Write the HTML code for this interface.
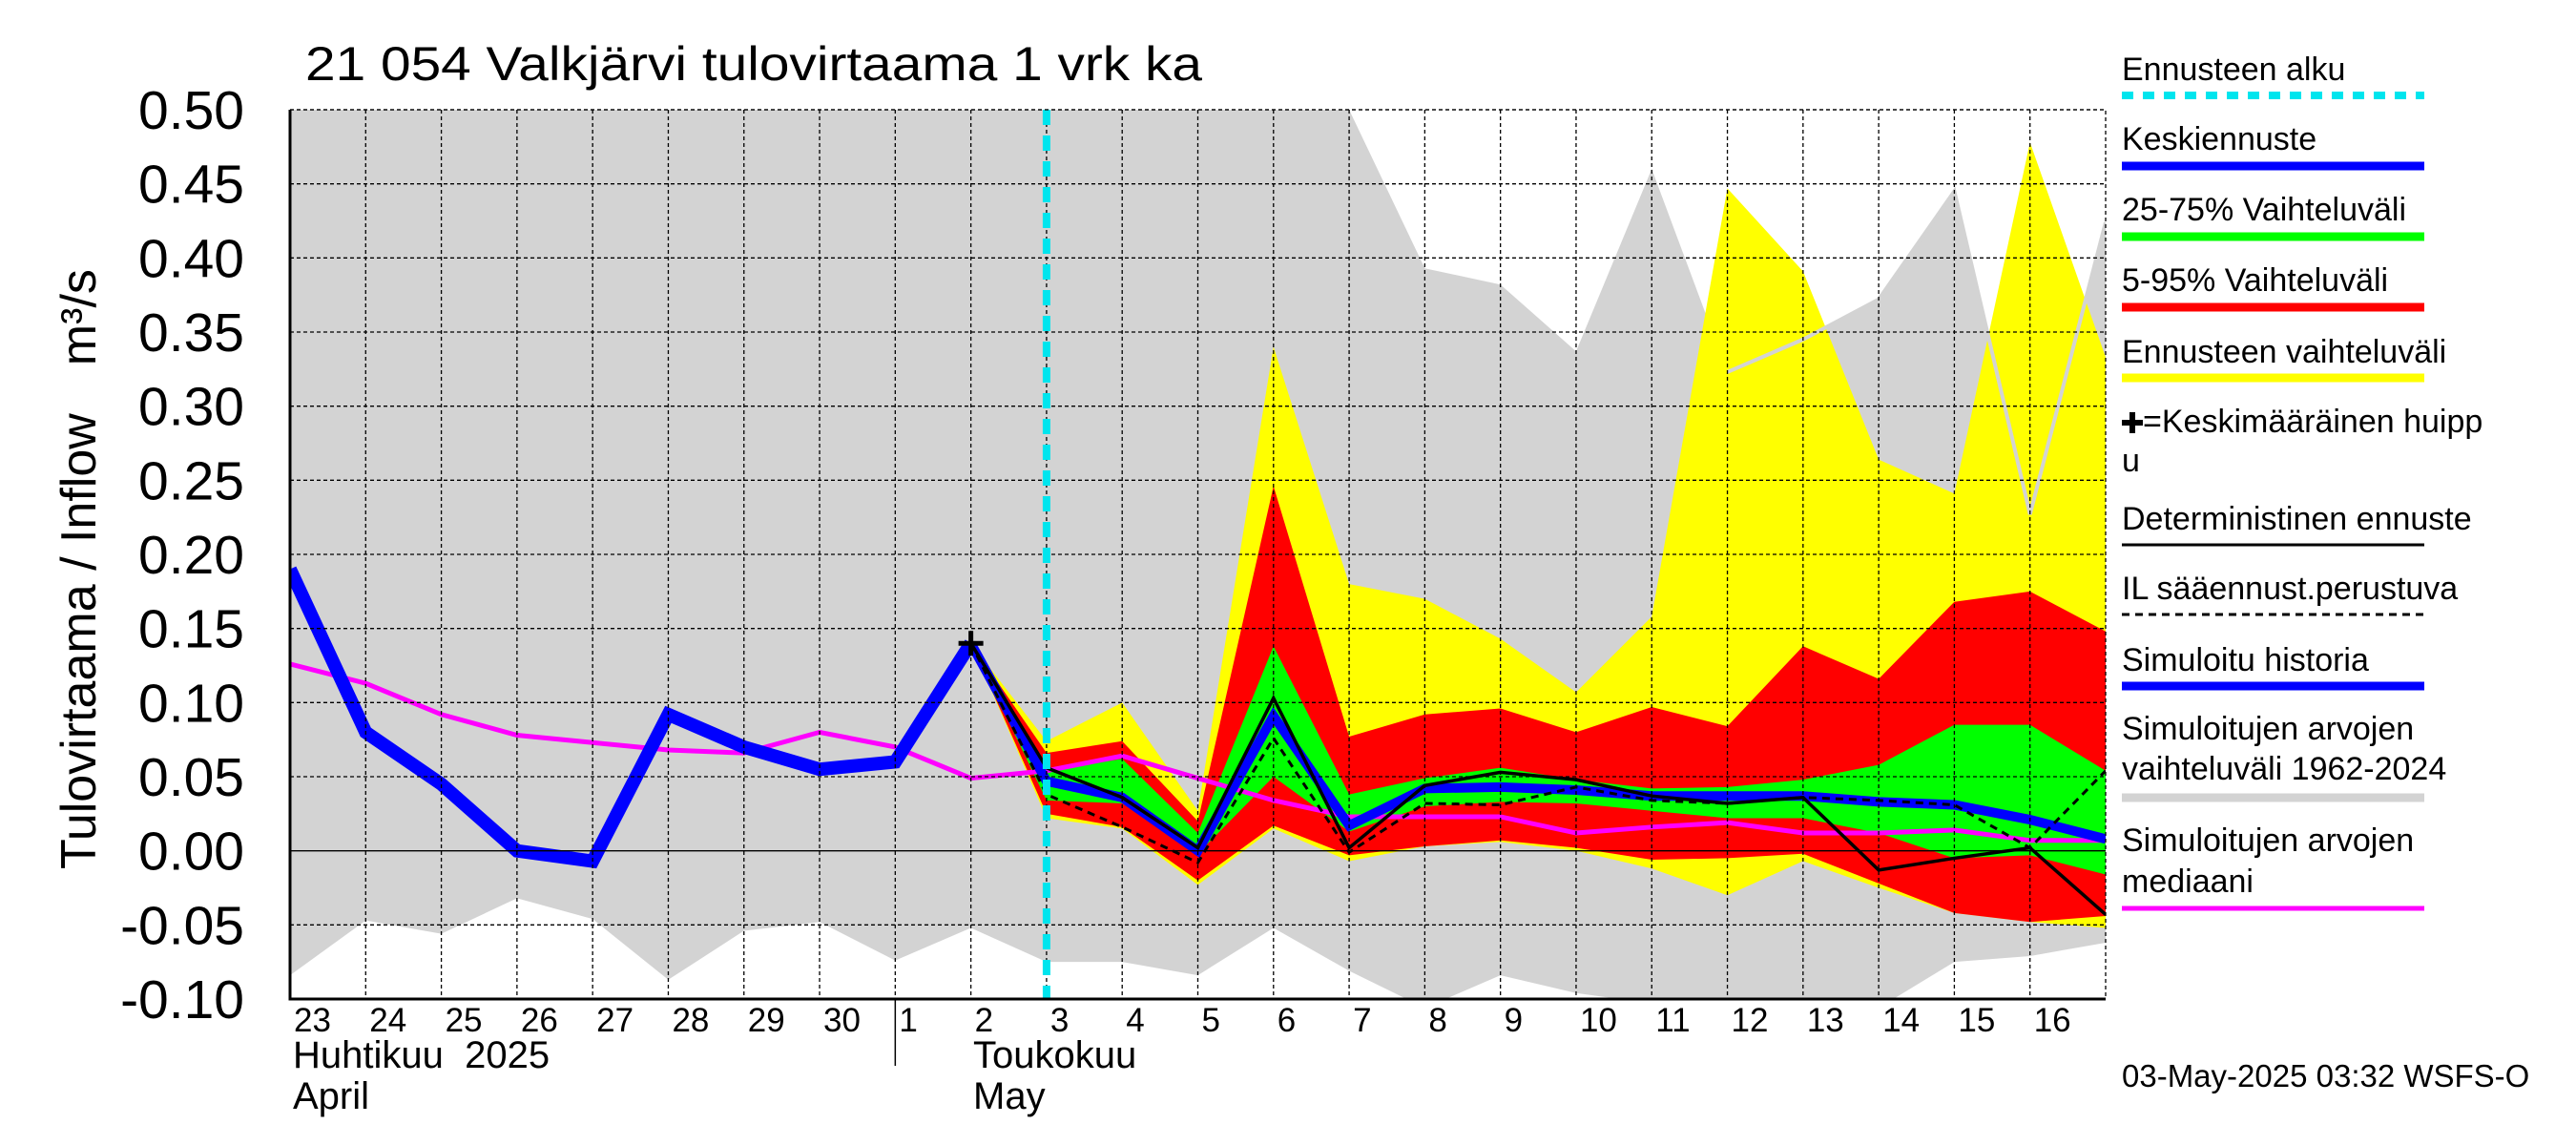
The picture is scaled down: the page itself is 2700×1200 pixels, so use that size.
<!DOCTYPE html>
<html><head><meta charset="utf-8"><style>
html,body{margin:0;padding:0;background:#fff;}
svg{display:block;font-family:"Liberation Sans",sans-serif;}
</style></head><body>
<svg id="c" width="2700" height="1200" viewBox="0 0 2700 1200" xmlns="http://www.w3.org/2000/svg">
<text x="320" y="84" font-size="50" textLength="940" lengthAdjust="spacingAndGlyphs">21 054 Valkjärvi tulovirtaama 1 vrk ka</text>
<text transform="translate(100,911) rotate(-90)" font-size="52">Tulovirtaama / Inflow<tspan dx="50">m³/s</tspan></text>
<g id="plot"></g>
<g id="legend" font-size="34"></g>
<text x="2224" y="1139" font-size="33">03-May-2025 03:32 WSFS-O</text>
</svg>
<script>
const dayLabels=["23","24","25","26","27","28","29","30","1","2","3","4","5","6","7","8","9","10","11","12","13","14","15","16"];
const yTicks=[-0.10,-0.05,0.00,0.05,0.10,0.15,0.20,0.25,0.30,0.35,0.40,0.45,0.50];
const greyUpper=[0.5,0.5,0.5,0.5,0.5,0.5,0.5,0.5,0.5,0.5,0.5,0.5,0.5,0.5,0.5,0.393,0.382,0.337,0.46,0.323,0.345,0.372,0.445,0.227,0.424];
const greyLower=[-0.084,-0.047,-0.056,-0.032,-0.046,-0.087,-0.054,-0.048,-0.074,-0.052,-0.075,-0.075,-0.084,-0.052,-0.081,-0.106,-0.084,-0.096,-0.103,-0.106,-0.106,-0.106,-0.075,-0.071,-0.062];
const yelUpper=[0.14,0.074,0.1,0.027,0.34,0.18,0.17,0.143,0.107,0.158,0.447,0.391,0.264,0.241,0.478,0.333];
const yelLower=[0.14,0.022,0.015,-0.023,0.015,-0.007,0.003,0.006,0.0,-0.012,-0.03,-0.007,-0.025,-0.042,-0.048,-0.052];
const redUpper=[0.14,0.066,0.074,0.02,0.246,0.077,0.092,0.096,0.08,0.097,0.084,0.138,0.116,0.168,0.175,0.148];
const redLower=[0.14,0.025,0.016,-0.02,0.017,-0.003,0.003,0.007,0.002,-0.006,-0.005,-0.002,-0.022,-0.042,-0.048,-0.044];
const grnUpper=[0.14,0.054,0.062,0.012,0.138,0.038,0.049,0.056,0.048,0.042,0.043,0.048,0.058,0.085,0.085,0.054];
const grnLower=[0.14,0.034,0.032,-0.002,0.05,0.013,0.03,0.033,0.032,0.027,0.022,0.022,0.012,-0.005,-0.003,-0.016];
const meanFc=[0.14,0.047,0.036,0.0,0.091,0.017,0.042,0.043,0.041,0.037,0.037,0.037,0.033,0.031,0.021,0.008];
const determ=[0.14,0.056,0.036,0.002,0.103,0.002,0.044,0.053,0.048,0.037,0.032,0.036,-0.013,-0.005,0.002,-0.043];
const ilFc=[0.14,0.038,0.016,-0.008,0.076,-0.001,0.032,0.031,0.043,0.034,0.032,0.036,0.034,0.031,0.002,0.054];
const simHist=[0.19,0.08,0.045,0.0,-0.007,0.092,0.07,0.055,0.06,0.14];
const median=[0.126,0.113,0.092,0.078,0.073,0.068,0.066,0.08,0.07,0.049,0.054,0.064,0.049,0.034,0.023,0.023,0.023,0.012,0.016,0.019,0.012,0.012,0.014,0.007,0.007];
const peakIdx=9, peakVal=0.14, fcStartIdx=10, fcOff=9;

const L=304,R=2207,T=115,B=1047;
const X=i=>L+i*(R-L)/24;
const Y=v=>B-(v+0.1)/0.6*(B-T);
const NS="http://www.w3.org/2000/svg";
const plot=document.getElementById('plot');
function mk(tag,attrs,parent){const e=document.createElementNS(NS,tag);for(const k in attrs)e.setAttribute(k,attrs[k]);(parent||plot).appendChild(e);return e;}
const clip=mk('clipPath',{id:'pc'});mk('rect',{x:L,y:T,width:R-L,height:B-T},clip);
const g=mk('g',{'clip-path':'url(#pc)'});
function band(up,lo,off,color,name){let p=up.map((v,i)=>X(i+off)+','+Y(v));for(let i=lo.length-1;i>=0;i--)p.push(X(i+off)+','+Y(lo[i]));const e=mk('polygon',{points:p.join(' '),fill:color},g);return e;}
function line(vals,off,color,w,name,dash){const e=mk('polyline',{points:vals.map((v,i)=>X(i+off)+','+Y(v)).join(' '),fill:'none',stroke:color,'stroke-width':w,'stroke-linejoin':'miter'},g);if(dash)e.setAttribute('stroke-dasharray',dash);return e;}
band(greyUpper,greyLower,0,'#d3d3d3','historical-range-band');
band(yelUpper,yelLower,fcOff,'#ffff00','forecast-range-band');
line(greyUpper.slice(fcOff+10),fcOff+10,'#d3d3d3',4,'historical-range-upper-edge');
band(redUpper,redLower,fcOff,'#ff0000','band-5-95');
band(grnUpper,grnLower,fcOff,'#00ff00','band-25-75');
for(let i=1;i<24;i++){const e=mk('line',{x1:X(i),x2:X(i),y1:T,y2:B,stroke:'#000','stroke-width':1.3,'stroke-dasharray':'4,3'});}
yTicks.forEach(v=>{const e=mk('line',{x1:L,x2:R,y1:Y(v),y2:Y(v),stroke:'#000','stroke-width':1.3});if(Math.abs(v)>1e-9)e.setAttribute('stroke-dasharray','4,3');});
line(median,0,'#ff00ff',5,'median-line');
line(simHist,0,'#0000ff',14,'simulated-history-line');
line(meanFc,fcOff,'#0000ff',10,'mean-forecast-line');
line(determ,fcOff,'#000',3.5,'deterministic-forecast-line');
line(ilFc,fcOff,'#000',3,'il-forecast-line','8,6');
{const e=mk('line',{x1:X(fcStartIdx),x2:X(fcStartIdx),y1:T,y2:B,stroke:'#00e5ee','stroke-width':8,'stroke-dasharray':'16,11'});}
{const px=X(peakIdx),py=Y(peakVal);const e=mk('path',{d:`M${px-13},${py}H${px+13}M${px},${py-13}V${py+13}`,stroke:'#000','stroke-width':5});}
mk('polyline',{points:`${L},${T} ${L},${B} ${R},${B}`,fill:'none',stroke:'#000','stroke-width':3});
mk('polyline',{points:`${L},${T} ${R},${T} ${R},${B}`,fill:'none',stroke:'#000','stroke-width':1.3,'stroke-dasharray':'4,3'});
yTicks.forEach(v=>{const t=mk('text',{x:256,y:Y(v)+20,'text-anchor':'end','font-size':57});t.textContent=v.toFixed(2);});
dayLabels.forEach((d,i)=>{const t=mk('text',{x:X(i)+4,y:1081,'font-size':35});t.textContent=d;});
[[307,1119,'Huhtikuu\u00a0\u00a02025'],[307,1162,'April'],[1020,1119,'Toukokuu'],[1020,1162,'May']].forEach(a=>{const t=mk('text',{x:a[0],y:a[1],'font-size':40});t.textContent=a[2];});
mk('line',{x1:X(8),x2:X(8),y1:B,y2:1117,stroke:'#000','stroke-width':1.5});
const lg=document.getElementById('legend');
const LX=2224,LX2=2541;
const items=[
 [[84,'Ennusteen alku']],100,'#00e5ee',8,'12,10',
 [[157,'Keskiennuste']],174,'#0000ff',9,null,
 [[231,'25-75% Vaihteluväli']],248,'#00ff00',9,null,
 [[305,'5-95% Vaihteluväli']],322,'#ff0000',9,null,
 [[380,'Ennusteen vaihteluväli']],396,'#ffff00',9,null,
 [[453,'=Keskimääräinen huipp'],[494,'u']],null,null,0,null,
 [[555,'Deterministinen ennuste']],571,'#000',3,null,
 [[628,'IL sääennust.perustuva']],644,'#000',3,'8,6',
 [[703,'Simuloitu historia']],719,'#0000ff',9,null,
 [[775,'Simuloitujen arvojen'],[817,'vaihteluväli 1962-2024']],836,'#d3d3d3',9,null,
 [[892,'Simuloitujen arvojen'],[935,'mediaani']],952,'#ff00ff',5,null];
for(let k=0;k<items.length;k+=5){const texts=items[k],ly=items[k+1],col=items[k+2],w=items[k+3],dash=items[k+4];
 const grp=mk('g',{},lg);
 texts.forEach((tt,j)=>{const isPeak=tt[1].startsWith('=');const t=mk('text',{x:isPeak&&j==0?LX+22:LX,y:tt[0]},grp);t.textContent=tt[1];});
 if(ly){const l=mk('line',{x1:LX,x2:LX2,y1:ly,y2:ly,stroke:col,'stroke-width':w},grp);if(dash)l.setAttribute('stroke-dasharray',dash);}
 else{mk('path',{d:'M2224,443H2246M2235,432V454',stroke:'#000','stroke-width':6},grp);}
}
</script>
</body></html>
